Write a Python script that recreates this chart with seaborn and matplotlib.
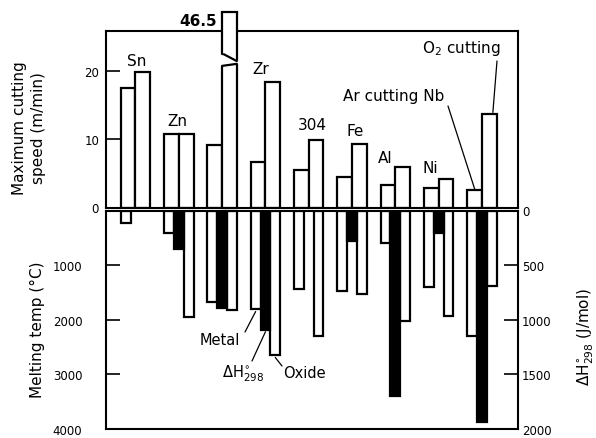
import numpy as np
import pandas as pd
import matplotlib
matplotlib.use("Agg")
import matplotlib.pyplot as plt
from matplotlib.patches import Rectangle, Polygon
import seaborn as sns

# ---- data -------------------------------------------------------------
metals = ["Sn", "Zn", "Ti", "Zr", "304", "Fe", "Al", "Ni", "Nb"]
ar_speed = [17.5, 10.7, 9.1, 6.7, 5.5, 4.5, 3.3, 2.8, 2.5]          # m/min
o2_speed = [19.8, 10.7, 46.5, 18.4, 9.8, 9.3, 5.9, 4.2, 13.7]        # m/min
metal_mp = [232, 420, 1668, 1810, 1440, 1470, 600, 1400, 2290]       # deg C
oxide_heat = [np.nan, 355, 890, 1090, np.nan, 275, 1700, 210, 1940]  # J/mol
oxide_mp = [np.nan, 1950, 1820, 2650, 2300, 1530, 2030, 1940, 1380]  # deg C

speed_ticks = [0, 10, 20]
temp_ticks = [1000, 2000, 3000, 4000]
heat_ticks = [0, 500, 1000, 1500, 2000]

modes = ["Ar cutting", "O2 cutting"]
kinds = ["Metal", "dH", "Oxide"]

# ---- style ------------------------------------------------------------
sns.set_style("ticks")
plt.rcParams["font.family"] = ["DejaVu Sans"]
plt.rcParams["mathtext.fontset"] = "dejavusans"
for key in ("text.color", "axes.labelcolor", "xtick.color", "ytick.color", "axes.edgecolor"):
    plt.rcParams[key] = "black"

W, H = 596, 439
fig = plt.figure(figsize=(W / 100, H / 100), dpi=100)


def fx(px):
    return px / W


def fy(py):
    return 1 - py / H


LEFT, RIGHT = 106, 518
TOP, ZERO_UP, ZERO_LOW, BOTTOM = 32, 208.5, 211.5, 430
SPEED_MAX = 25.8

ax_up = fig.add_axes([fx(LEFT), fy(ZERO_UP), fx(RIGHT) - fx(LEFT), fy(TOP) - fy(ZERO_UP)])
ax_low = fig.add_axes([fx(LEFT), fy(BOTTOM), fx(RIGHT) - fx(LEFT), fy(ZERO_LOW) - fy(BOTTOM)])

bar_kw = dict(width=0.68, saturation=1, edgecolor="black", linewidth=1.6,
              legend=False, errorbar=None, order=metals, dodge=True)

# ---- cutting speed (upper panel) --------------------------------------
speed_df = pd.DataFrame({
    "metal": metals * 2,
    "mode": [modes[0]] * len(metals) + [modes[1]] * len(metals),
    "speed": ar_speed + o2_speed,
})
sns.barplot(data=speed_df, x="metal", y="speed", hue="mode", hue_order=modes,
            palette={m: "white" for m in modes}, ax=ax_up, **bar_kw)

# ---- melting temperatures and heat of formation (lower panel) ---------
pal = {"Metal": "white", "dH": "black", "Oxide": "white"}
temp_df = pd.DataFrame({
    "metal": metals * 2,
    "kind": ["Metal"] * len(metals) + ["Oxide"] * len(metals),
    "value": metal_mp + oxide_mp,
}).dropna()
sns.barplot(data=temp_df, x="metal", y="value", hue="kind", hue_order=kinds,
            palette=pal, ax=ax_low, **bar_kw)

ax_heat = ax_low.twinx()
heat_df = pd.DataFrame({"metal": metals, "kind": "dH", "value": oxide_heat}).dropna()
sns.barplot(data=heat_df, x="metal", y="value", hue="kind", hue_order=kinds,
            palette=pal, ax=ax_heat, **bar_kw)

# ---- axes --------------------------------------------------------------
XLIM = (-0.68, 8.83)
for ax in (ax_up, ax_low, ax_heat):
    ax.set_xlim(*XLIM)
    ax.set_xlabel("")
    ax.set_ylabel("")
    ax.tick_params(axis="x", length=0, labelbottom=False)
    for s in ax.spines.values():
        s.set_linewidth(1.5)
        s.set_color("black")

ax_up.set_ylim(0, SPEED_MAX)
ax_up.set_yticks(speed_ticks)
ax_up.tick_params(axis="y", direction="in", length=10, width=1.2, pad=5, labelsize=8.5)

ax_low.set_ylim(4000, 0)
ax_low.set_yticks(temp_ticks)
ax_low.tick_params(axis="y", direction="in", length=10, width=1.2, pad=17, labelsize=8.5)

ax_heat.set_ylim(2000, 0)
ax_heat.set_yticks(heat_ticks)
ax_heat.tick_params(axis="y", direction="in", length=10, width=1.2, pad=3, labelsize=8.5)
for side in ("top", "left", "bottom"):
    ax_heat.spines[side].set_visible(False)
ax_low.spines["right"].set_visible(False)

# ---- broken bar for the off-scale O2 speed ----------------------------
STUB_TOP = 28.6
tall = max(ax_up.patches, key=lambda p: p.get_height())
x0, w = tall.get_x(), tall.get_width()
tall.set_clip_path(Rectangle((x0 - w, -1), 3 * w, STUB_TOP + 1, transform=ax_up.transData))
tall.set_zorder(3)
ax_up.plot([x0, x0 + w], [STUB_TOP, STUB_TOP], color="black", lw=1.6,
           solid_capstyle="projecting", clip_on=False, zorder=4)
pad = 0.05
ax_up.add_patch(Polygon([(x0 - pad, 20.7), (x0 + w + pad, 21.0), (x0 + w + pad, 21.4),
                         (x0 - pad, 22.4)], closed=True, facecolor="white",
                        edgecolor="none", zorder=4, clip_on=False))
ax_up.plot([x0, x0 + w], [20.7, 21.0], color="black", lw=1.6, zorder=5, clip_on=False)
ax_up.plot([x0 + 0.04, x0 + w], [22.4, 21.4], color="black", lw=1.6, zorder=5, clip_on=False)
ax_up.text(x0 - 0.12, 27.3, f"{max(o2_speed):g}", ha="right", va="center",
           fontsize=11, fontweight="bold", clip_on=False)

# ---- labels ------------------------------------------------------------
def ftext(px, py, s, **kw):
    kw.setdefault("ha", "center")
    kw.setdefault("va", "center")
    kw.setdefault("fontsize", 11)
    fig.text(fx(px), fy(py), s, **kw)


for name, (px, py) in {"Sn": (137, 61), "Zn": (177, 121), "Zr": (261, 70),
                       "304": (312, 126), "Fe": (355, 131), "Al": (385, 159),
                       "Ni": (430, 169)}.items():
    ftext(px, py, name)

ftext(394, 97, "Ar cutting Nb")
ftext(461, 48, r"O$_2$ cutting")
ftext(220, 341, "Metal", fontsize=10.5)
ftext(243, 374, r"$\Delta$H$^{\circ}_{298}$", fontsize=10.5)
ftext(304, 373, "Oxide", fontsize=10.5)

ftext(29, 128, "Maximum cutting\nspeed (m/min)", rotation=90, linespacing=1.25)
ftext(37, 330, "Melting temp (°C)", rotation=90)
ftext(586, 337, r"$\Delta$H$^{\circ}_{298}$ (J/mol)", rotation=90)

# leader lines from labels to the Nb and Zr bars
step = 0.68 / 2
i_nb = metals.index("Nb")
i_zr = metals.index("Zr")
line = dict(arrowstyle="-", lw=0.9, color="black", shrinkA=0, shrinkB=0)


def leader(ax, start_px, xy):
    ax.annotate("", xy=xy, xycoords="data", xytext=(start_px[0], H - start_px[1]),
                textcoords="figure pixels", arrowprops=line, annotation_clip=False)


leader(ax_up, (448, 107), (i_nb - step / 2, ar_speed[i_nb] + 0.2))
leader(ax_up, (497, 62), (i_nb + step / 2 + 0.08, o2_speed[i_nb] + 0.2))
third = 0.68 / 3
leader(ax_low, (245, 333), (i_zr - third, metal_mp[i_zr] + 40))
leader(ax_heat, (252, 362), (i_zr, oxide_heat[i_zr] + 20))
leader(ax_low, (282, 367), (i_zr + third, oxide_mp[i_zr] + 40))

fig.savefig("out.png", dpi=100)
